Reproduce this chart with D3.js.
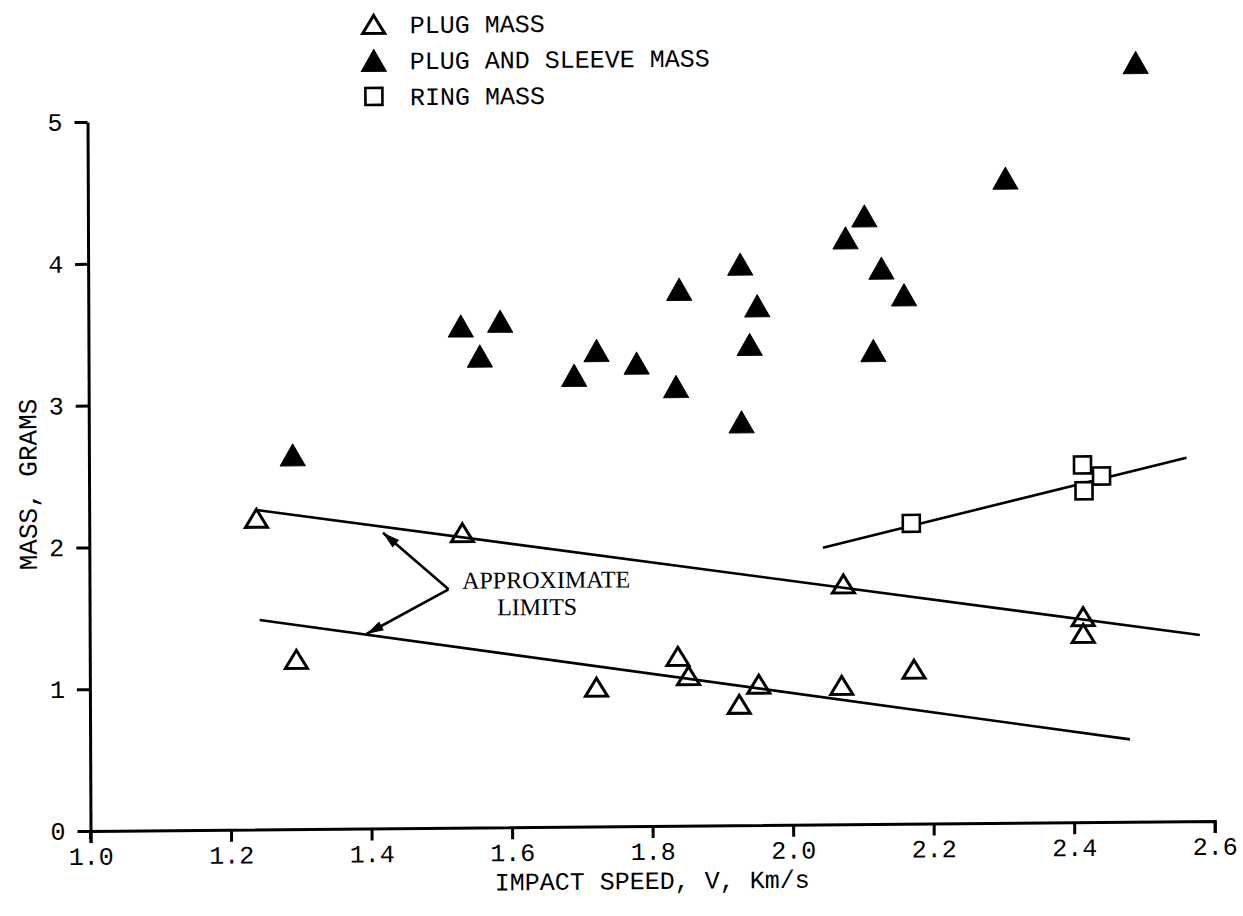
<!DOCTYPE html>
<html><head><meta charset="utf-8">
<script src="https://cdn.jsdelivr.net/npm/d3@7"></script>
<style>
html,body{margin:0;padding:0;background:#fff;}
svg{display:block;}
</style></head>
<body>
<svg id="chart" width="1243" height="916"></svg>
<script>
// ---- data ----
const xTicks = [1.0, 1.2, 1.4, 1.6, 1.8, 2.0, 2.2, 2.4, 2.6];
const yTicks = [0, 1, 2, 3, 4, 5];

const plugV = [1.238, 1.294, 1.531, 1.721, 1.837, 1.852, 1.924, 1.952, 2.070, 2.073, 2.173, 2.414, 2.414];
const plugM = [2.195, 1.198, 2.080, 0.982, 1.195, 1.058, 0.853, 0.993, 0.980, 1.695, 1.089, 1.449, 1.332];

const sleeveV = [1.290, 1.530, 1.586, 1.557, 1.691, 1.723, 1.780, 1.841, 1.836, 1.928, 1.952, 1.941, 1.929, 2.105, 2.078, 2.129, 2.161, 2.117, 2.306, 2.492];
const sleeveM = [2.639, 3.538, 3.569, 3.325, 3.183, 3.356, 3.265, 3.783, 3.097, 3.956, 3.662, 3.390, 2.844, 4.289, 4.135, 3.919, 3.730, 3.339, 4.546, 5.353];

const ringV = [2.441, 2.170, 2.414, 2.416];
const ringM = [2.440, 2.118, 2.519, 2.337];

const upperLimitV = [1.238, 2.580];
const upperLimitM = [2.253, 1.313];
const lowerLimitV = [1.242, 2.480];
const lowerLimitM = [1.477, 0.581];
const ringFitV = [2.044, 2.562];
const ringFitM = [1.952, 2.564];

const arrowVertex = [1.511, 1.682];
const arrowTips = [[1.418, 2.085], [1.394, 1.372]];
const annotationLines = ["APPROXIMATE", "LIMITS"];
const annotationPos = [[1.650, 1.685], [1.637, 1.495]];

const legendLabels = ["PLUG MASS", "PLUG AND SLEEVE MASS", "RING MASS"];
const xTitle = "IMPACT SPEED, V, Km/s";
const yTitle = "MASS, GRAMS";

// ---- layout ----
const ox = 90.5, oy = 831;
const svg = d3.select("#chart");
const root = svg.append("g")
  .attr("transform", `translate(${ox},${oy}) matrix(1,-0.0089,0.0042,1,0,0) translate(${-ox},${-oy})`);

const x = d3.scaleLinear().domain([1.0, 2.6]).range([ox, 1214.7]);
const y = d3.scaleLinear().domain([0, 5]).range([oy, 122]);

const mono = "'Liberation Mono', 'DejaVu Sans Mono', monospace";
const serif = "'Liberation Serif', 'DejaVu Serif', serif";

// axes
const xAxis = d3.axisBottom(x).tickValues(xTicks).tickSize(12).tickSizeOuter(12).tickPadding(4).tickFormat(d3.format(".1f"));
const gx = root.append("g").attr("transform", `translate(0,${oy})`).call(xAxis);
gx.select(".domain").attr("stroke", "#000").attr("stroke-width", 3);
gx.selectAll(".tick line").attr("stroke", "#000").attr("stroke-width", 3);
gx.selectAll(".tick text").attr("font-family", mono).attr("font-size", 25).attr("fill", "#000");

const yAxis = d3.axisLeft(y).tickValues(yTicks).tickSize(13).tickSizeOuter(0).tickPadding(12).tickFormat(d3.format("d"));
const gy = root.append("g").attr("transform", `translate(${ox},0)`).call(yAxis);
gy.select(".domain").attr("stroke", "#000").attr("stroke-width", 3);
gy.selectAll(".tick line").attr("stroke", "#000").attr("stroke-width", 3);
gy.selectAll(".tick text").attr("font-family", mono).attr("font-size", 25).attr("fill", "#000");
// small extension of y axis below the x axis
root.append("line").attr("x1", ox).attr("x2", ox).attr("y1", oy).attr("y2", oy + 8)
  .attr("stroke", "#000").attr("stroke-width", 3);

// titles
root.append("text").attr("x", 652).attr("y", 894).attr("text-anchor", "middle")
  .attr("font-family", mono).attr("font-size", 25).attr("fill", "#000").text(xTitle);
root.append("text").attr("transform", "translate(38,484) rotate(-90)").attr("text-anchor", "middle")
  .attr("font-family", mono).attr("font-size", 26).attr("fill", "#000").text(yTitle);

// fit lines
const line = d3.line().x(d => x(d[0])).y(d => y(d[1]));
function drawLine(vs, ms) {
  root.append("path").datum(vs.map((v, i) => [v, ms[i]])).attr("d", line)
    .attr("fill", "none").attr("stroke", "#000").attr("stroke-width", 2.6);
}
drawLine(upperLimitV, upperLimitM);
drawLine(lowerLimitV, lowerLimitM);
drawLine(ringFitV, ringFitM);

// arrows
arrowTips.forEach(t => {
  const x0 = x(arrowVertex[0]), y0 = y(arrowVertex[1]);
  const x1 = x(t[0]), y1 = y(t[1]);
  root.append("line").attr("x1", x0).attr("y1", y0).attr("x2", x1).attr("y2", y1)
    .attr("stroke", "#000").attr("stroke-width", 2.6);
  const ang = Math.atan2(y1 - y0, x1 - x0);
  const L = 17, W = 5;
  const bx = x1 - L * Math.cos(ang), by = y1 - L * Math.sin(ang);
  const px = -Math.sin(ang) * W, py = Math.cos(ang) * W;
  root.append("path").attr("d", `M${x1},${y1}L${bx + px},${by + py}L${bx - px},${by - py}Z`).attr("fill", "#000");
});

// annotation
annotationLines.forEach((t, i) => {
  root.append("text").attr("x", x(annotationPos[i][0])).attr("y", y(annotationPos[i][1]))
    .attr("text-anchor", "middle").attr("font-family", serif).attr("font-size", 24).attr("fill", "#000").text(t);
});

// markers
function triPath(w, h) { return `M0,${-h / 2}L${w / 2},${h / 2}L${-w / 2},${h / 2}Z`; }
const openTri = triPath(22, 18), fillTri = triPath(25, 22);
const sq = 17;

root.append("g").selectAll("path").data(plugV.map((v, i) => [v, plugM[i]])).join("path")
  .attr("d", openTri).attr("transform", d => `translate(${x(d[0])},${y(d[1])})`)
  .attr("fill", "none").attr("stroke", "#000").attr("stroke-width", 3).attr("stroke-linejoin", "miter");

root.append("g").selectAll("path").data(sleeveV.map((v, i) => [v, sleeveM[i]])).join("path")
  .attr("d", fillTri).attr("transform", d => `translate(${x(d[0])},${y(d[1])})`)
  .attr("fill", "#000").attr("stroke", "#000").attr("stroke-width", 1).attr("stroke-linejoin", "round");

root.append("g").selectAll("rect").data(ringV.map((v, i) => [v, ringM[i]])).join("rect")
  .attr("x", d => x(d[0]) - sq / 2).attr("y", d => y(d[1]) - sq / 2)
  .attr("width", sq).attr("height", sq)
  .attr("fill", "#fff").attr("stroke", "#000").attr("stroke-width", 2.6);

// legend
const legX = 377, legTextX = 413, legY = [27, 63, 99];
root.append("path").attr("d", openTri).attr("transform", `translate(${legX},${legY[0]})`)
  .attr("fill", "none").attr("stroke", "#000").attr("stroke-width", 3);
root.append("path").attr("d", fillTri).attr("transform", `translate(${legX},${legY[1]})`)
  .attr("fill", "#000").attr("stroke", "#000").attr("stroke-width", 1);
root.append("rect").attr("x", legX - sq / 2).attr("y", legY[2] - sq / 2).attr("width", sq).attr("height", sq)
  .attr("fill", "#fff").attr("stroke", "#000").attr("stroke-width", 2.6);
legendLabels.forEach((t, i) => {
  root.append("text").attr("x", legTextX).attr("y", legY[i] + 9)
    .attr("font-family", mono).attr("font-size", 25).attr("fill", "#000").text(t);
});
</script>
</body></html>
